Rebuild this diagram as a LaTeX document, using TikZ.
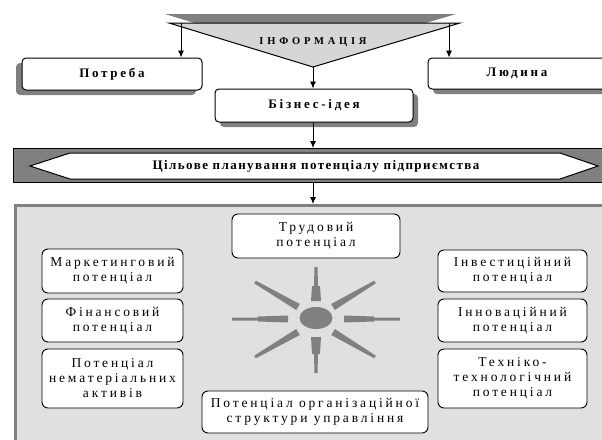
\documentclass[tikz,border=0pt]{standalone}
\usepackage{fontspec}
\setmainfont{Liberation Serif}
\newfontfamily\headfont[LetterSpace=21]{Liberation Serif}
\newfontfamily\planfont[LetterSpace=11]{Liberation Serif}
\newfontfamily\infofont[LetterSpace=36]{Liberation Serif}
\newfontfamily\potfont[LetterSpace=21]{Liberation Serif}
\usetikzlibrary{positioning,shadows,arrows.meta}
\definecolor{light-gray}{gray}{0.88}
\definecolor{tri-gray}{gray}{0.84}
\definecolor{mid-gray}{gray}{0.5}

\tikzset{
	headbox/.style={draw, fill=white, line width=1pt, rounded corners=4pt, inner sep=0pt,
		font=\headfont\bfseries\fontsize{13}{15}\selectfont},
	potbox/.style={draw, fill=white, line width=0.9pt, rounded corners=6pt, inner sep=0pt,
		align=center, font=\potfont\fontsize{13.5}{15}\selectfont},
	lshadow/.style={drop shadow={shadow xshift=-6pt, shadow yshift=-5pt, fill=mid-gray, opacity=1}},
	rshadow/.style={drop shadow={shadow xshift=5pt, shadow yshift=-5pt, fill=mid-gray, opacity=1}},
	arr/.style={line width=0.9pt, arrows=-{Latex[length=7pt,width=6pt]}}
}

\begin{document}
\begin{tikzpicture}[x=1pt,y=-1pt]
	\useasboundingbox (0,0) rectangle (602,439);

	% information
	\fill[mid-gray] (165,14) -- (456,14) -- (309,58) -- cycle;
	\draw[fill=tri-gray,line width=1pt] (169,23) -- (460,23) -- (313,67) -- cycle;
	\node[font=\infofont\bfseries\fontsize{10.5}{12}\selectfont] (info) at (313,42) {ІНФОРМАЦІЯ};
	\coordinate (apex) at (313,67);
	\coordinate (infoL) at (181,23);
	\coordinate (infoR) at (449,23);

	% need, person, idea
	\node[headbox, lshadow, minimum width=180pt, minimum height=32pt] (potreba) at (112,74) {Потреба};
	\node[headbox, rshadow, minimum width=178pt, minimum height=31pt] (lyudyna) at (517,73.5) {Людина};
	\node[headbox, rshadow, minimum width=198pt, minimum height=33pt] (biznes) at (314,105.5) {Бізнес-ідея};

	% planning banner
	\node[draw, fill=mid-gray, line width=1pt, inner sep=0pt, anchor=north west,
		minimum width=600pt, minimum height=34pt] (banner) at (13,148) {};
	\draw[fill=white,line width=1pt] (30,166) -- (70,153) -- (560,153) -- (598,166) -- (560,179) -- (70,179) -- cycle;
	\node[font=\planfont\bfseries\fontsize{13}{15}\selectfont] (plan) at (316,166) {Цільове планування потенціалу підприємства};

	% potential field
	\node[draw=mid-gray, fill=light-gray, line width=3pt, inner sep=0pt, anchor=north west,
		minimum width=610pt, minimum height=250pt] (field) at (14,204) {};

	% arrows
	\draw[arr] (infoL) -- (infoL |- potreba.north);
	\draw[arr] (infoR) -- (infoR |- lyudyna.north);
	\draw[arr] (apex) -- (apex |- biznes.north);
	\draw[arr] (apex |- biznes.south) -- (apex |- banner.north);
	\draw[arr] (apex |- banner.south) -- (apex |- field.north);

	% sun
	\fill[mid-gray] (316,318) ellipse [x radius=16.5pt, y radius=11pt];
	\fill[mid-gray] (311,301) -- (321,301) -- (320,286) -- (318,286) -- (317.5,267) -- (314.5,267) -- (314,286) -- (312,286) -- cycle;
	\fill[mid-gray] (311,337) -- (321,337) -- (320,354) -- (318,354) -- (317.5,373) -- (314.5,373) -- (314,354) -- (312,354) -- cycle;
	\fill[mid-gray] (288,315.5) -- (288,322.5) -- (258,321.5) -- (258,320.5) -- (232,320.5) -- (232,317.5) -- (258,317.5) -- (258,316.5) -- cycle;
	\fill[mid-gray] (344,315.5) -- (344,322.5) -- (374,321.5) -- (374,320.5) -- (400,320.5) -- (400,317.5) -- (374,317.5) -- (374,316.5) -- cycle;
	\fill[mid-gray] (299.8,304) -- (296.2,310) -- (254.2,283.3) -- (255.8,280.7) -- cycle;
	\fill[mid-gray] (331.2,304) -- (334.8,310) -- (375.8,283.3) -- (374.2,280.7) -- cycle;
	\fill[mid-gray] (299.8,335) -- (296.2,329) -- (254.2,355.7) -- (255.8,358.3) -- cycle;
	\fill[mid-gray] (331.2,335) -- (334.8,329) -- (375.8,355.7) -- (374.2,358.3) -- cycle;

	% potentials
	\node[potbox, minimum width=168pt, minimum height=44pt] (trud) at (316,236) {Трудовий\\потенціал};
	\node[potbox, minimum width=141pt, minimum height=44pt] (market) at (112.5,271) {Маркетинговий\\потенціал};
	\node[potbox, minimum width=141pt, minimum height=43pt] (fin) at (112.5,320.5) {Фінансовий\\потенціал};
	\node[potbox, minimum width=141pt, minimum height=59pt] (nemat) at (112.5,378.5) {Потенціал\\нематеріальних\\активів};
	\node[potbox, minimum width=226pt, minimum height=42pt] (org) at (315,412) {Потенціал організаційної\\структури управління};
	\node[potbox, minimum width=149pt, minimum height=42pt] (invest) at (512.5,271) {Інвестиційний\\потенціал};
	\node[potbox, minimum width=149pt, minimum height=43pt] (innov) at (512.5,320.5) {Інноваційний\\потенціал};
	\node[potbox, minimum width=149pt, minimum height=59pt] (tekhn) at (512.5,378.5) {Техніко-\\технологічний\\потенціал};
\end{tikzpicture}
\end{document}
